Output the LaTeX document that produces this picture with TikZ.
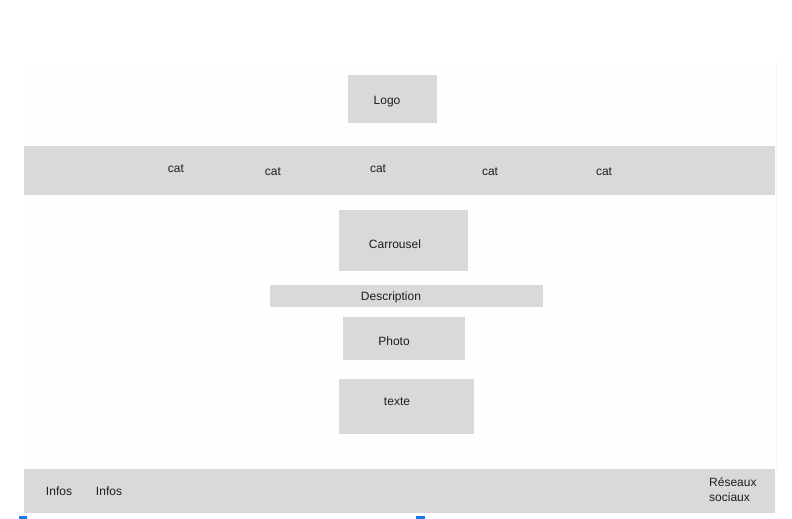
\documentclass[tikz,border=0pt]{standalone}
\usepackage{fontspec}
\setmainfont{Liberation Sans}
\definecolor{boxgray}{HTML}{D9D9D9}
\definecolor{pagebg}{HTML}{FEFEFE}
\definecolor{pageedge}{HTML}{F4F4F4}
\definecolor{ink}{HTML}{1E1E1E}
\definecolor{markblue}{HTML}{1877F2}
\begin{document}
\begin{tikzpicture}[x=1pt,y=-1pt,
  block/.style={fill=boxgray,draw=none,inner sep=0pt},
  lbl/.style={text=ink,font=\fontsize{12}{14}\selectfont,inner sep=0pt}]
\useasboundingbox (0,0) rectangle (792,519);
\fill[white] (0,0) rectangle (792,519);
% page frame
\fill[pagebg] (24,63) rectangle (776,513);
\draw[pageedge,line width=0.8pt] (776,63) -- (776,469);
% header logo
\fill[boxgray] (348,75) rectangle (437,123);
\node[lbl] (logo) at (387,102) {Logo};
% category bar
\fill[boxgray] (24,146) rectangle (775,195);
\node[lbl] (c1) at (176,169) {cat};
\node[lbl] (c2) at (273,172) {cat};
\node[lbl] (c3) at (378,169) {cat};
\node[lbl] (c4) at (490,172) {cat};
\node[lbl] (c5) at (604,172) {cat};
% content blocks
\fill[boxgray] (339,210) rectangle (468,271);
\node[lbl] (carrousel) at (395,244) {Carrousel};
\fill[boxgray] (270,285) rectangle (543,307);
\node[lbl] (desc) at (391,297) {Description};
\fill[boxgray] (343,317) rectangle (465,360);
\node[lbl] (photo) at (394,341) {Photo};
\fill[boxgray] (339,379) rectangle (474,434);
\node[lbl] (texte) at (397,402) {texte};
% footer
\fill[boxgray] (24,469) rectangle (775,513);
\node[lbl] (i1) at (59,491) {Infos};
\node[lbl] (i2) at (109,491) {Infos};
\node[lbl,align=left,anchor=west,font=\fontsize{12}{15}\selectfont] (rs) at (709,490) {Réseaux\\sociaux};
% small markers under the footer
\fill[markblue] (19,516) rectangle (27,519);
\fill[markblue] (416,516) rectangle (425,519);
\end{tikzpicture}
\end{document}
